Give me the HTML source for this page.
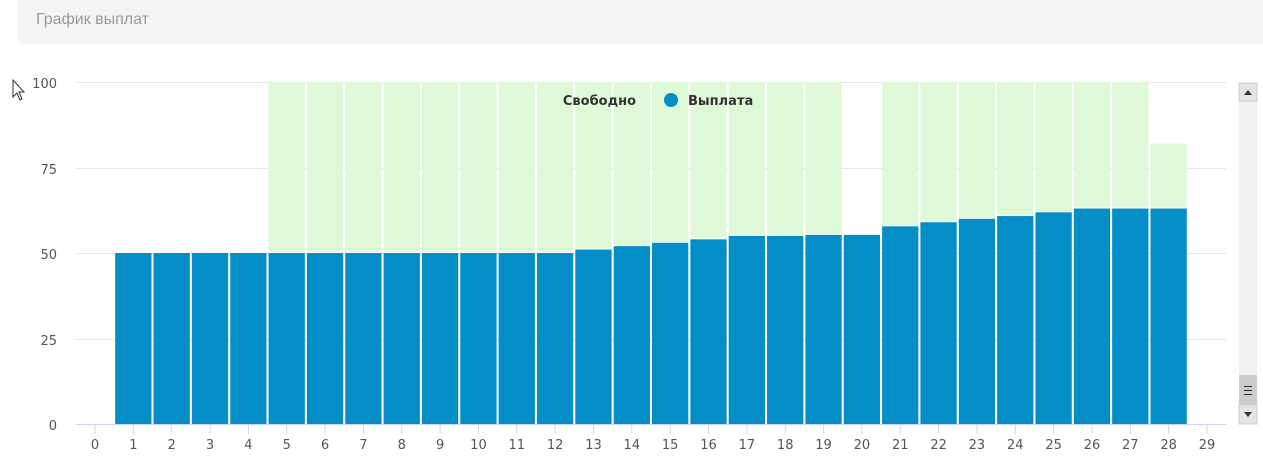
<!DOCTYPE html>
<html><head><meta charset="utf-8"><style>
body{margin:0;width:1263px;height:468px;background:#fff;overflow:hidden;font-family:"Liberation Sans",sans-serif;}
.hdr{position:absolute;left:18px;top:-4px;width:1250px;height:48px;background:#f4f4f4;border-radius:6px;}
.hdr span{position:absolute;left:18px;top:15px;font-size:16px;color:#9a9a9a;}
</style></head><body>
<div class="hdr"><span>График выплат</span></div>
<svg width="1263" height="468" style="position:absolute;left:0;top:0">
<g stroke="#e6e6e6" stroke-width="1">
<line x1="76" x2="1226" y1="82.5" y2="82.5"/><line x1="76" x2="1226" y1="168.5" y2="168.5"/>
<line x1="76" x2="1226" y1="253.5" y2="253.5"/><line x1="76" x2="1226" y1="339.5" y2="339.5"/>
</g>
<g font-family="DejaVu Sans, sans-serif" font-size="13" fill="#555" text-anchor="end">
<text x="57" y="88">100</text><text x="57" y="174">75</text><text x="57" y="259">50</text><text x="57" y="345">25</text><text x="57" y="430">0</text>
</g>
<g id="bars"></g>
<line x1="76" x2="1226" y1="424.5" y2="424.5" stroke="#ccd6eb"/>
<g id="ticks" font-family="DejaVu Sans, sans-serif" font-size="13" fill="#555" text-anchor="middle"></g>
<text x="636" y="105" font-family="DejaVu Sans, sans-serif" font-size="13" font-weight="bold" fill="#333" text-anchor="end">Свободно</text>
<circle cx="671" cy="100" r="7" fill="#058dc7"/>
<text x="688" y="105" font-family="DejaVu Sans, sans-serif" font-size="13" font-weight="bold" fill="#333">Выплата</text>
<rect x="1239" y="83" width="18" height="341" fill="#f0f0f0"/>
<rect x="1239" y="83" width="18" height="18" fill="#e4e4e4" stroke="#ccc"/>
<path d="M1244 95 L1252 95 L1248 90Z" fill="#333"/>
<rect x="1239" y="375" width="18" height="30" fill="#ccc"/>
<g stroke="#333"><line x1="1244" x2="1252" y1="386.5" y2="386.5"/><line x1="1244" x2="1252" y1="390.5" y2="390.5"/><line x1="1244" x2="1252" y1="394.5" y2="394.5"/></g>
<rect x="1239" y="405" width="18" height="19" fill="#e4e4e4" stroke="#ccc"/>
<path d="M1244 412 L1252 412 L1248 417Z" fill="#333"/>
<path d="M13 80 L13 97 L17 93 L20 100 L22 99 L19 92 L24 92Z" fill="#fff" stroke="#333" stroke-width="1"/>
</svg>
<script>
(function(){
var blue=[50,50,50,50,50,50,50,50,50,50,50,50,51,52,53,54,55,55,55.3,55.3,57.8,59,60,60.8,61.9,63,63,63];
var green=[0,0,0,0,1,1,1,1,1,1,1,1,1,1,1,1,1,1,1,0,1,1,1,1,1,1,1,82];
var ns="http://www.w3.org/2000/svg",b=document.getElementById("bars"),t=document.getElementById("ticks");
function X(i){return 95+i*38.345;}
function Y(v){return 424-v*3.42;}
function r(x,y,w,h,c){var e=document.createElementNS(ns,"rect");e.setAttribute("x",x);e.setAttribute("y",y);e.setAttribute("width",w);e.setAttribute("height",h);e.setAttribute("fill",c);b.appendChild(e);}
for(var i=1;i<=28;i++){var x0=X(i)-19.17+1,w=36.3,g=green[i-1];
if(g){var tv=(g===1)?100:g;r(x0,Y(tv),w,Y(blue[i-1])-Y(tv)-1,"#dff8d8");}
r(x0,Y(blue[i-1]),w,424-Y(blue[i-1]),"#058dc7");}
for(var i=0;i<=29;i++){var l=document.createElementNS(ns,"line");l.setAttribute("x1",X(i));l.setAttribute("x2",X(i));l.setAttribute("y1",424);l.setAttribute("y2",434);l.setAttribute("stroke","#ccd6eb");t.appendChild(l);
var s=document.createElementNS(ns,"text");s.setAttribute("x",X(i));s.setAttribute("y",449);s.textContent=i;t.appendChild(s);}
})();
</script>
</body></html>
